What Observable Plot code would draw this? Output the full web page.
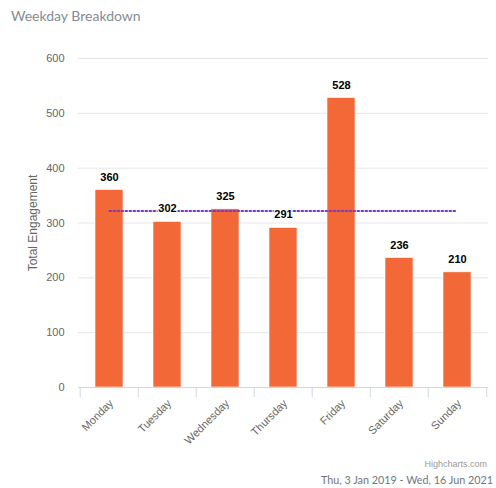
<!DOCTYPE html>
<html>
<head>
<meta charset="utf-8">
<script src="https://cdn.jsdelivr.net/npm/d3@7"></script>
<script src="https://cdn.jsdelivr.net/npm/@observablehq/plot@0.6"></script>
<style>
  html, body { margin: 0; padding: 0; background: #fff; }
  #wrap { position: relative; width: 496px; height: 488px; overflow: hidden; }
  #title { position: absolute; left: 11px; top: 7px; font-family: Lato, "Open Sans", sans-serif; font-size: 14px; color: #858b95; }
  #credit { position: absolute; right: 9px; top: 459px; font-family: "Liberation Sans", Arial, sans-serif; font-size: 9px; color: #999; }
  #range { position: absolute; right: 3px; top: 473px; font-family: Lato, "Open Sans", sans-serif; font-size: 10.8px; color: #6f7680; white-space: nowrap; }
  #chart { position: absolute; left: 0; top: 0; }
</style>
</head>
<body>
<div id="wrap">
  <div id="chart"></div>
  <div id="title">Weekday Breakdown</div>
  <div id="credit">Highcharts.com</div>
  <div id="range">Thu, 3 Jan 2019 - Wed, 16 Jun 2021</div>
</div>
<script>
const days = ["Monday", "Tuesday", "Wednesday", "Thursday", "Friday", "Saturday", "Sunday"];
const engagement = [360, 302, 325, 291, 528, 236, 210];
const yTicks = [0, 100, 200, 300, 400, 500, 600];

const data = days.map((d, i) => ({day: d, value: engagement[i]}));
const avg = d3.mean(engagement);
const avgData = days.map(d => ({day: d, value: avg}));

const W = 496, H = 488, mL = 78, mR = 8, mT = 58, mB = 101;
const step = (W - mL - mR) / days.length;
const lastDay = [days[days.length - 1]];

const chart = Plot.plot({
  width: W, height: H,
  marginLeft: mL, marginRight: mR, marginTop: mT, marginBottom: mB,
  style: {fontFamily: "'Liberation Sans', Arial, sans-serif", background: "transparent"},
  x: {domain: days, paddingInner: 0.52, paddingOuter: 0.26, label: null},
  y: {domain: [0, 600], ticks: yTicks, label: null},
  marks: [
    Plot.gridY(yTicks, {stroke: "#e6e6e6", strokeOpacity: 1}),
    Plot.axisY({ticks: yTicks, tickSize: 0, tickPadding: 14, fontSize: 11, fill: "#666", label: null}),
    Plot.text(["Total Engagement"], {frameAnchor: "left", textAnchor: "middle", dx: -45, rotate: -90, fontSize: 12, fill: "#666"}),
    Plot.barY(data, {x: "day", y: "value", fill: "#f26937", stroke: "#fff", strokeWidth: 0.6}),
    Plot.ruleY([0], {stroke: "#ccd6eb", strokeWidth: 1}),
    Plot.ruleX(days, {x: d => d, dx: -step / 2, y1: 0, y2: -18.5, stroke: "#ccd6eb"}),
    Plot.ruleX(lastDay, {x: d => d, dx: step / 2, y1: 0, y2: -18.5, stroke: "#ccd6eb"}),
    Plot.axisX({tickSize: 0, tickRotate: -45, tickPadding: 14, fontSize: 11, fill: "#666", label: null, dx: 2}),
    Plot.lineY(avgData, {x: "day", y: "value", stroke: "#7a3cc4", strokeWidth: 2, strokeDasharray: "1.6,2.4"}),
    Plot.text(data, {x: "day", y: "value", text: d => String(d.value), dy: -13, fontSize: 11, fontWeight: "bold", fill: "#000", stroke: "#fff", strokeWidth: 2.5, paintOrder: "stroke"})
  ]
});
document.getElementById("chart").appendChild(chart);
</script>
</body>
</html>
